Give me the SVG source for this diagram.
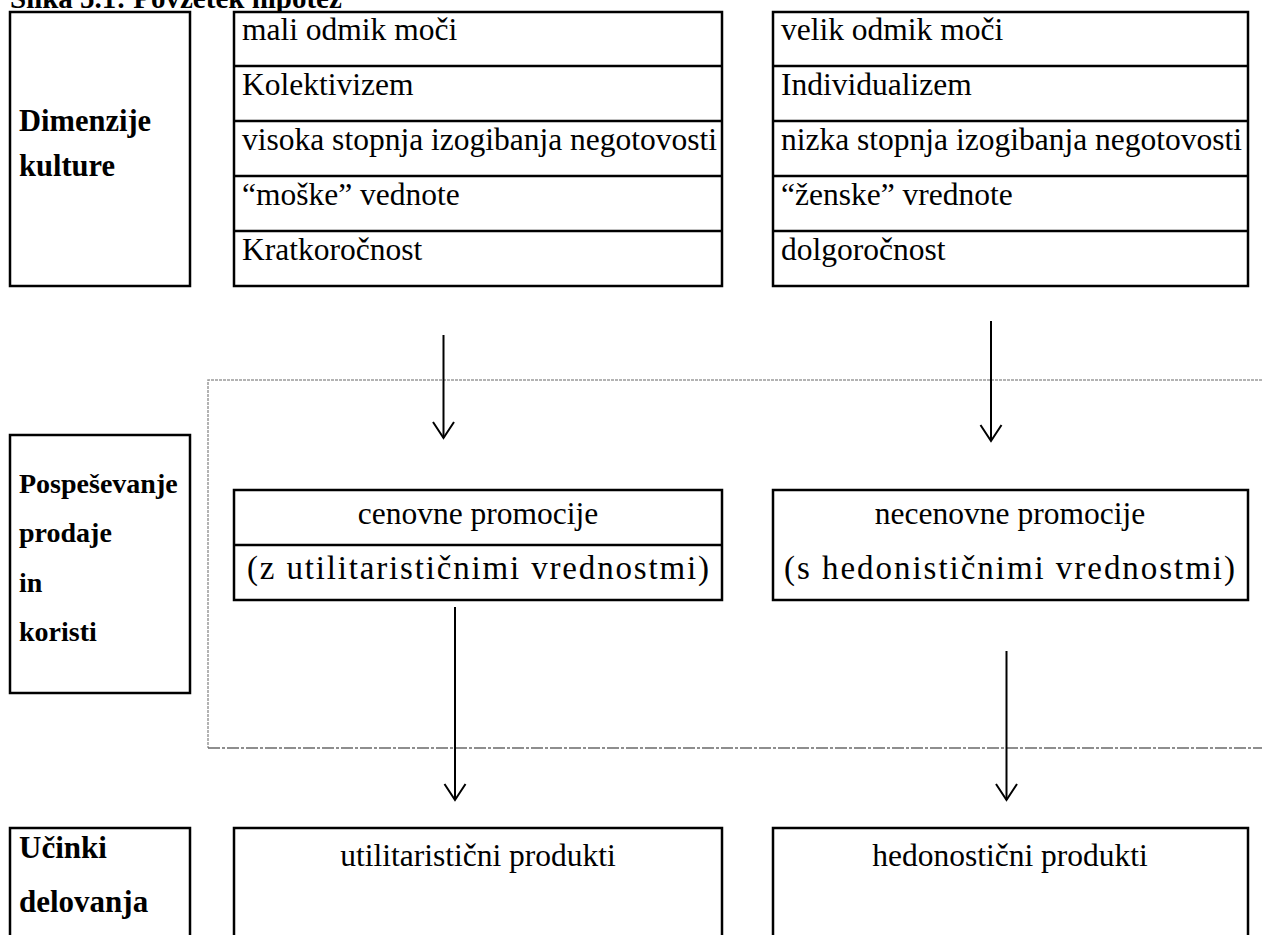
<svg xmlns="http://www.w3.org/2000/svg" width="1262" height="935" viewBox="0 0 1262 935">
<style>
.box{fill:#fff;stroke:#000;stroke-width:2.5}
.sep{stroke:#000;stroke-width:2.5}
.t{font-family:"Liberation Serif","Times New Roman",serif;font-size:31.5px;fill:#000}
.c{text-anchor:middle}
.b{font-family:"Liberation Serif","Times New Roman",serif;font-weight:bold;fill:#000}
.arr{stroke:#000;stroke-width:2;fill:none}
.dot{stroke:#9a9a9a;stroke-width:1.5;fill:none;stroke-dasharray:3 1}
</style>
<defs>
<marker id="v" markerWidth="20" markerHeight="24" refX="17" refY="12" orient="auto" markerUnits="userSpaceOnUse" viewBox="0 0 20 24">
<path d="M1,1.5 L17,12 L1,22.5" fill="none" stroke="#000" stroke-width="2"/>
</marker>
</defs>
<text x="10" y="8" class="b" font-size="29">Slika 5.1: Povzetek hipotez</text>
<g id="frame">
<path class="dot" d="M1262,380 H208 V748"/>
<path d="M208,748 H1262" fill="none" stroke="#6a6a6a" stroke-width="1.5" stroke-dasharray="12 2 3 2"/>
</g>
<g id="dimenzije">
<rect class="box" x="10" y="12" width="180" height="274"/>
<text class="b" font-size="30.5" x="19" y="131">Dimenzije</text>
<text class="b" font-size="30.5" x="19" y="176">kulture</text>
</g>
<g id="levo-dimenzije">
<rect class="box" x="234" y="12" width="488" height="274"/>
<line class="sep" x1="234" y1="66" x2="722" y2="66"/>
<line class="sep" x1="234" y1="121" x2="722" y2="121"/>
<line class="sep" x1="234" y1="176" x2="722" y2="176"/>
<line class="sep" x1="234" y1="231" x2="722" y2="231"/>
<text class="t" x="242" y="40">mali odmik moči</text>
<text class="t" x="242" y="95">Kolektivizem</text>
<text class="t" x="242" y="150">visoka stopnja izogibanja negotovosti</text>
<text class="t" x="242" y="205">“moške” vednote</text>
<text class="t" x="242" y="260">Kratkoročnost</text>
</g>
<g id="desno-dimenzije">
<rect class="box" x="773" y="12" width="475" height="274"/>
<line class="sep" x1="773" y1="66" x2="1248" y2="66"/>
<line class="sep" x1="773" y1="121" x2="1248" y2="121"/>
<line class="sep" x1="773" y1="176" x2="1248" y2="176"/>
<line class="sep" x1="773" y1="231" x2="1248" y2="231"/>
<text class="t" x="781" y="40">velik odmik moči</text>
<text class="t" x="781" y="95">Individualizem</text>
<text class="t" x="781" y="150">nizka stopnja izogibanja negotovosti</text>
<text class="t" x="781" y="205">“ženske” vrednote</text>
<text class="t" x="781" y="260">dolgoročnost</text>
</g>
<g id="pospesevanje">
<rect class="box" x="10" y="435" width="180" height="258"/>
<text class="b" font-size="28" x="19" y="493">Pospeševanje</text>
<text class="b" font-size="28" x="19" y="542">prodaje</text>
<text class="b" font-size="28" x="19" y="592">in</text>
<text class="b" font-size="28" x="19" y="641">koristi</text>
</g>
<g id="cenovne">
<rect class="box" x="234" y="490" width="488" height="110"/>
<line class="sep" x1="234" y1="545" x2="722" y2="545"/>
<text class="t c" x="478" y="524">cenovne promocije</text>
<text class="t" x="247" y="579" style="font-size:33px" textLength="462" lengthAdjust="spacing">(z utilitarističnimi vrednostmi)</text>
</g>
<g id="necenovne">
<rect class="box" x="773" y="490" width="475" height="110"/>
<text class="t c" x="1010" y="524">necenovne promocije</text>
<text class="t" x="784" y="579" style="font-size:33px" textLength="451" lengthAdjust="spacing">(s hedonističnimi vrednostmi)</text>
</g>
<g id="ucinki">
<rect class="box" x="10" y="828" width="180" height="120"/>
<text class="b" font-size="31" x="19" y="858">Učinki</text>
<text class="b" font-size="31" x="19" y="912">delovanja</text>
</g>
<g id="utilitaristicni">
<rect class="box" x="234" y="828" width="488" height="120"/>
<text class="t c" x="478" y="866">utilitaristični produkti</text>
</g>
<g id="hedonisticni">
<rect class="box" x="773" y="828" width="475" height="120"/>
<text class="t c" x="1010" y="866">hedonostični produkti</text>
</g>
<g id="connectors">
<line class="arr" x1="443.5" y1="335" x2="443.5" y2="438" marker-end="url(#v)"/>
<line class="arr" x1="991" y1="321" x2="991" y2="441" marker-end="url(#v)"/>
<line class="arr" x1="455" y1="607" x2="455" y2="800" marker-end="url(#v)"/>
<line class="arr" x1="1006.5" y1="651" x2="1006.5" y2="800" marker-end="url(#v)"/>
</g>
</svg>
